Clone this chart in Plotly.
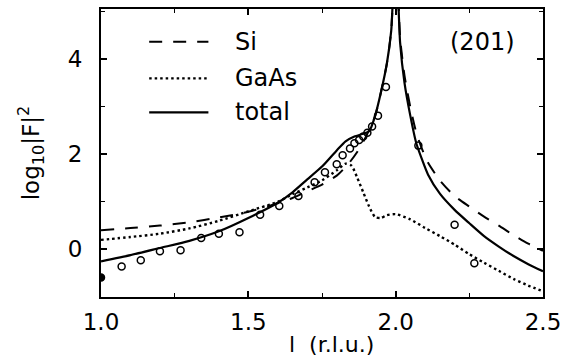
import plotly.graph_objects as go

# ---- data ----
l_total = [1.00, 1.10, 1.20, 1.30, 1.40, 1.50, 1.60, 1.65, 1.70, 1.75, 1.80, 1.83, 1.86, 1.89, 1.91,
           1.93, 1.95, 1.97, 1.985, 2.00, 2.015, 2.03, 2.05, 2.07, 2.09, 2.11, 2.15, 2.20, 2.25,
           2.30, 2.35, 2.40, 2.45, 2.50]
total = [-0.25, -0.12, 0.03, 0.18, 0.38, 0.66, 0.98, 1.20, 1.47, 1.74, 2.08, 2.27, 2.37, 2.43, 2.48,
         2.80, 3.30, 3.90, 4.60, 6.50, 4.35, 3.50, 2.80, 2.23, 1.88, 1.57, 1.17, 0.83, 0.55,
         0.28, 0.06, -0.14, -0.31, -0.46]

l_si = [1.00, 1.10, 1.20, 1.30, 1.40, 1.50, 1.60, 1.65, 1.70, 1.75, 1.80, 1.84, 1.87, 1.90,
        1.93, 1.95, 1.97, 1.985, 2.00, 2.015, 2.03, 2.05, 2.07, 2.09, 2.11, 2.15, 2.20, 2.25,
        2.30, 2.35, 2.40, 2.45, 2.50]
si = [0.40, 0.45, 0.50, 0.57, 0.67, 0.79, 0.97, 1.08, 1.22, 1.36, 1.55, 1.80, 2.05, 2.38,
      2.80, 3.30, 3.90, 4.60, 6.50, 4.45, 3.65, 2.98, 2.45, 2.10, 1.82, 1.45, 1.12, 0.90,
      0.69, 0.50, 0.30, 0.12, -0.03]

l_gaas = [1.00, 1.10, 1.20, 1.30, 1.40, 1.50, 1.60, 1.65, 1.70, 1.75, 1.80, 1.83, 1.85, 1.87,
          1.89, 1.91, 1.93, 1.95, 1.97, 2.00, 2.05, 2.10, 2.15, 2.20, 2.25, 2.30, 2.35, 2.40,
          2.45, 2.50]
gaas = [0.20, 0.26, 0.33, 0.44, 0.60, 0.80, 1.00, 1.16, 1.30, 1.45, 1.66, 1.80, 1.76, 1.50,
        1.20, 0.90, 0.68, 0.66, 0.72, 0.74, 0.63, 0.45, 0.28, 0.10, -0.10, -0.28, -0.45, -0.62,
        -0.76, -0.88]

l_meas = [1.00, 1.07, 1.135, 1.20, 1.27, 1.34, 1.40, 1.47, 1.54, 1.605, 1.67, 1.725, 1.76, 1.80,
          1.82, 1.845, 1.86, 1.876, 1.89, 1.904, 1.92, 1.94, 1.967, 2.077, 2.20, 2.267]
meas = [-0.59, -0.36, -0.23, -0.04, -0.02, 0.24, 0.33, 0.36, 0.73, 0.91, 1.12, 1.41, 1.62, 1.79,
        1.98, 2.12, 2.23, 2.30, 2.37, 2.45, 2.58, 2.81, 3.41, 2.18, 0.52, -0.29]

legend_names = ["Si", "GaAs", "total"]
x_ticks = [1.0, 1.5, 2.0, 2.5]
x_ticklabels = ["1.0", "1.5", "2.0", "2.5"]
y_ticks = [0, 2, 4]

FONT = "DejaVu Sans"
SI_DASH = "13px,11px"
GAAS_DASH = "2.5px,3px"

fig = go.Figure()
fig.add_trace(go.Scatter(x=l_si, y=si, mode="lines", name="Si",
                         line=dict(color="black", width=2, dash=SI_DASH, shape="spline", smoothing=0.6)))
fig.add_trace(go.Scatter(x=l_gaas, y=gaas, mode="lines", name="GaAs",
                         line=dict(color="black", width=2.4, dash=GAAS_DASH, shape="spline", smoothing=0.6)))
fig.add_trace(go.Scatter(x=l_total, y=total, mode="lines", name="total",
                         line=dict(color="black", width=2.2, shape="spline", smoothing=0.6)))
symbols = ["circle"] + ["circle-open"] * (len(l_meas) - 1)
fig.add_trace(go.Scatter(x=l_meas, y=meas, mode="markers", name="data",
                         marker=dict(symbol=symbols, size=7, color="black",
                                     line=dict(color="black", width=1.5))))

axis_common = dict(showline=True, linecolor="black", linewidth=2, mirror="ticks",
                   ticks="inside", ticklen=6, tickwidth=1.5, tickcolor="black",
                   showgrid=False, zeroline=False,
                   tickfont=dict(family=FONT, size=23, color="black"))
fig.update_xaxes(range=[1.0, 2.5], tickvals=x_ticks, ticktext=x_ticklabels,
                 minor=dict(dtick=0.25, tick0=1.0, ticks="inside", ticklen=4, tickwidth=1.2,
                            tickcolor="black"),
                 ticklabelstandoff=3, ticklabeloverflow="allow", **axis_common)
fig.update_yaxes(range=[-1.0, 5.05], tickvals=y_ticks,
                 minor=dict(dtick=1, tick0=0, ticks="inside", ticklen=4, tickwidth=1.2,
                            tickcolor="black"),
                 ticklabelstandoff=12, **axis_common)

# legend drawn as sample lines + labels
leg_y = [0.886, 0.759, 0.641]
leg_dash = [SI_DASH, GAAS_DASH, "solid"]
leg_w = [2, 2.4, 2.2]
for name, yy, dsh, w in zip(legend_names, leg_y, leg_dash, leg_w):
    fig.add_shape(type="line", xref="paper", yref="paper", x0=0.109, x1=0.243, y0=yy, y1=yy,
                  line=dict(color="black", width=w, dash=dsh))
    fig.add_annotation(text=name, xref="paper", yref="paper", x=0.299, y=yy,
                       xanchor="left", yanchor="middle", showarrow=False,
                       font=dict(family=FONT, size=24, color="black"))

fig.add_annotation(text="(201)", xref="paper", yref="paper", x=0.864, y=0.886,
                   xanchor="center", yanchor="middle", showarrow=False,
                   font=dict(family=FONT, size=24, color="black"))
fig.add_annotation(text="l  (r.l.u.)", xref="paper", yref="paper", x=0.522, y=-0.166,
                   xanchor="center", yanchor="middle", showarrow=False,
                   font=dict(family=FONT, size=22, color="black"))
fig.add_annotation(text="log<sub>10</sub>|F|<sup>2</sup>", xref="paper", yref="paper",
                   x=-0.16, y=0.5, textangle=-90, xanchor="center", yanchor="middle",
                   showarrow=False, font=dict(family=FONT, size=23, color="black"))

fig.update_layout(width=568, height=358, margin=dict(l=101, r=19, t=7, b=61),
                  paper_bgcolor="white", plot_bgcolor="white", showlegend=False)

fig.write_html("out.html")
